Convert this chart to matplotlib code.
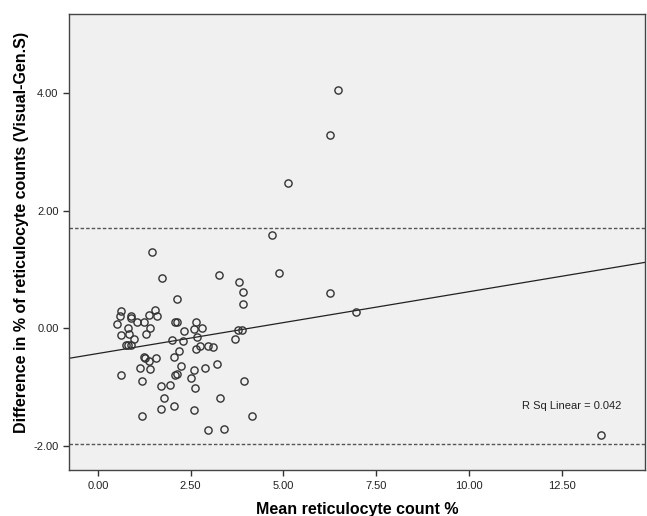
import numpy as np
import matplotlib
matplotlib.use('Agg')
import matplotlib.pyplot as plt

plt.rcParams['font.family'] = ['Liberation Sans', 'DejaVu Sans']

# Mean reticulocyte count % (x) and difference Visual - Gen.S (y)
mean_count = [6.47, 6.26, 5.13, 4.70, 3.26, 4.88, 3.81, 3.90, 3.90, 6.26,
              6.96, 13.56, 1.45, 1.72, 2.12,
              0.61, 1.55, 0.90, 0.88, 1.37, 1.60, 0.60, 0.52, 1.06, 1.25,
              0.81, 1.40, 0.61, 0.85, 1.29, 0.96, 2.08, 2.13, 2.00, 0.75,
              0.81, 0.89, 2.19, 1.23, 1.28, 1.56, 1.38, 2.05, 1.13, 1.40,
              0.63, 2.09, 2.13, 1.20, 1.94, 1.70, 1.79, 1.69, 2.05, 1.20,
              2.65, 2.60, 2.81, 2.32, 2.68, 3.77, 3.89, 3.69, 2.29, 2.65,
              2.75, 2.96, 3.11, 3.20, 2.25, 2.88, 2.60, 2.51, 2.62, 3.95,
              3.30, 2.58, 4.15, 2.98, 3.40]
difference = [4.05, 3.29, 2.46, 1.58, 0.91, 0.93, 0.79, 0.61, 0.41, 0.60,
              0.28, -1.82, 1.30, 0.85, 0.50,
              0.30, 0.31, 0.20, 0.18, 0.22, 0.20, 0.20, 0.07, 0.10, 0.10,
              0.00, 0.00, -0.12, -0.10, -0.10, -0.18, 0.10, 0.10, -0.20, -0.29,
              -0.29, -0.29, -0.38, -0.49, -0.51, -0.50, -0.56, -0.49, -0.67, -0.69,
              -0.79, -0.80, -0.78, -0.90, -0.96, -0.99, -1.18, -1.37, -1.32, -1.50,
              0.105, -0.01, 0.00, -0.05, -0.15, -0.03, -0.03, -0.18, -0.21, -0.35,
              -0.30, -0.30, -0.32, -0.60, -0.65, -0.67, -0.71, -0.85, -1.01, -0.90,
              -1.19, -1.39, -1.50, -1.73, -1.71]

# limits of agreement and fit line
upper_loa = 1.70
lower_loa = -1.96
fit_intercept = -0.43
fit_slope = 0.105
r_sq_text = 'R Sq Linear = 0.042'

x_ticks = [0, 2.5, 5, 7.5, 10, 12.5]
y_ticks = [-2, 0, 2, 4]

fig = plt.figure(figsize=(6.47, 5.16), dpi=100)
ax = fig.add_axes([69/647, 1 - 470/516, (645 - 69)/647, (470 - 14)/516])
ax.set_facecolor('#f0f0f0')

ax.set_xlim(-0.78, 14.75)
ax.set_ylim(-2.41, 5.34)

ax.axhline(upper_loa, color='#555555', lw=1, ls=(0, (2.5, 1.5)))
ax.axhline(lower_loa, color='#555555', lw=1, ls=(0, (2.5, 1.5)))

xx = np.array(ax.get_xlim())
ax.plot(xx, fit_intercept + fit_slope * xx, color='#222222', lw=0.9)

ax.plot(mean_count, difference, 'o', ms=5.2, mfc='none', mec='#333333', mew=1.0)

ax.text(11.43, -1.32, r_sq_text, fontsize=8, va='center', ha='left', color='#222222')

ax.set_xticks(x_ticks)
ax.set_yticks(y_ticks)
ax.set_xticklabels(['%.2f' % v for v in x_ticks])
ax.set_yticklabels(['%.2f' % v for v in y_ticks])
ax.tick_params(axis='both', direction='out', length=4, width=1, color='#333333',
               labelsize=8, labelcolor='#222222')
ax.tick_params(axis='x', pad=4)
for s in ax.spines.values():
    s.set_color('#444444')
    s.set_linewidth(1)

ax.set_xlabel('Mean reticulocyte count %', fontsize=11.5, fontweight='bold', labelpad=8)
ax.set_ylabel('Difference in % of reticulocyte counts (Visual-Gen.S)', fontsize=11.5,
              fontweight='bold')
ax.yaxis.set_label_coords(-0.069, 0.522)

fig.savefig('out.png', dpi=100)
